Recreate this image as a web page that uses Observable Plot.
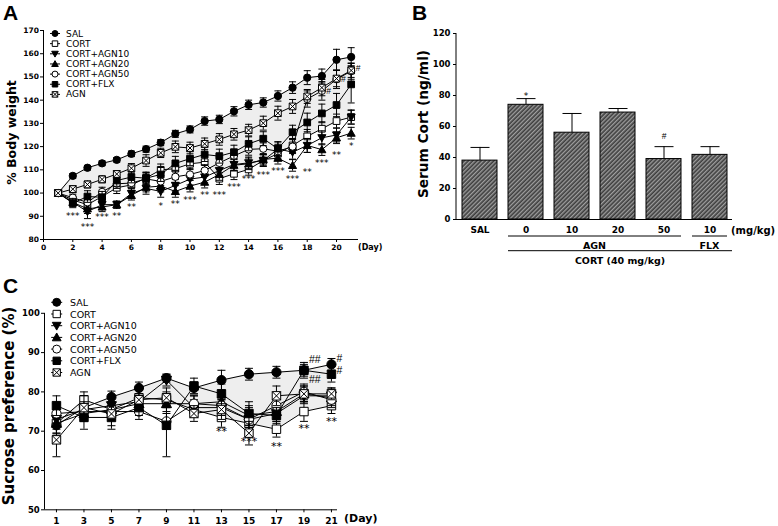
<!DOCTYPE html>
<html>
<head>
<meta charset="utf-8">
<script src="https://cdn.jsdelivr.net/npm/d3@7"></script>
<script src="https://cdn.jsdelivr.net/npm/@observablehq/plot@0.6"></script>
<style>
html,body{margin:0;padding:0;background:#fff;}
#root{position:relative;width:778px;height:526px;overflow:hidden;background:#fff;}
#root > svg{position:absolute;}
</style>
</head>
<body>
<div id="root"></div>
<script>
// ================= DATA =================
const seriesNames = ["SAL","CORT","CORT+AGN10","CORT+AGN20","CORT+AGN50","CORT+FLX","AGN"];

// ---- Panel A: % body weight ----
const daysA = [1,2,3,4,5,6,7,8,9,10,11,12,13,14,15,16,17,18,19,20,21];
const salA   = [100,107.4,110.9,112.8,114.3,116.9,118.9,121.7,125.5,127.4,131,131.7,135.2,138,139,141.8,145.4,149.7,150.4,157.4,158.6];
const cortA  = [100,97,95,98.5,102.3,103.5,106.5,110,110.5,112.6,113.3,106.2,108.3,110.2,114,117,120.5,124.4,127.7,131,132.7];
const agn10A = [100,96,92,95,95,99.8,102,100.7,103.3,106,106.9,109.7,112.3,113,114,119,117.6,120.5,123.8,125,132.7];
const agn20A = [100,96,93.2,94,95,99,102.5,103,100.7,103,104.7,108,112,112.6,114.5,115,111.9,120.5,118.7,123.8,125.8];
const agn50A = [100,98,96,100.5,104,104.3,106.1,105,107,108,109.7,113,116,118.8,119.1,118,120,140.5,144,149,152.5];
const flxA   = [100,95.7,98.5,98.2,105.4,106.9,106.4,108,112.8,114.8,116.6,115.9,117.6,121.2,123.4,119.1,126.2,130.4,134.3,137.9,146.8];
const agnA   = [100,101.7,103.7,105.9,108.2,110.7,114,117.3,119.9,119.4,121.2,123.1,125.3,127.1,130.1,134.4,137.3,141.6,145.4,149.3,152.8];
const salAErr   = [0,1,1,1,1,1.2,1.3,1.3,1.5,1.5,1.8,1.8,2,2,2,2.2,2.5,3,3,4.5,4];
const cortAErr  = [0,1.5,2,2,2.5,2.5,2.5,2.5,2.5,2.5,3,2.5,2.5,2.5,2.5,2.5,3,3,3,3,3];
const agn10AErr = [0,1.5,3,2,1.5,2,2.5,2.5,2.5,2.5,2.5,2.5,2.5,2.5,2.5,3,3,3,3,3,3];
const agn20AErr = [0,1.5,2,2,1.5,2,2,2.5,2.5,2.5,2.5,2.5,2.5,2.5,2.5,2.5,2.5,3,2.5,2.5,2.5];
const agn50AErr = [0,1.5,2,2,2,2,2.5,2.5,2.5,2.5,2.5,2.5,2.5,2.5,2.5,3,3,3.5,4,4,3.5];
const flxAErr   = [0,2,2.5,2.5,2.5,2.5,2.5,3,3,3,3,3,3,3,3,3,3,4,4,5,8];
const agnAErr   = [0,1.5,1.5,1.5,1.5,2,2.5,2,2.5,2.5,2.5,2.5,2.5,2.5,3,3,3,3,3.5,3.5,3];
const ticksAY = [80,90,100,110,120,130,140,150,160,170];
const ticksAX = [0,2,4,6,8,10,12,14,16,18,20];
const starDaysA   = [2,3,4,5,6,8,9,10,11,12,13,14,15,16,17,18,19,20,21];
const starLabelsA = ["***","***","***","**","**","*","**","***","**","***","***","***","***","***","***","**","***","**","*"];
const starPosA    = [91.1,86.5,90.8,91.3,95,95.6,96.4,98.2,100,100,103.6,106.9,108.6,110.5,107.2,110,114,117.6,121.5];
const hashDaysA = [19,20,21];
const hashPosA  = [143.8,149,153.8];

// ---- Panel B: serum corticosterone ----
const catsB   = ["SAL","AGN0","AGN10","AGN20","AGN50","FLX10"];
const labelsB = ["SAL","0","10","20","50","10"];
const valuesB = [38,74,56,69,39,41.7];
const errB    = [8.5,4,12.4,2.6,8,5.3];
const ticksBY = [0,20,40,60,80,100,120];
const annCatsB = ["AGN0","AGN50"];
const annTextB = ["*","#"];

// ---- Panel C: sucrose preference ----
const daysC   = [1,3,5,7,9,11,13,15,17,19,21];
const salC    = [71.5,76,78.7,81,83.5,81,83,84.5,85,85.5,87];
const cortC   = [72,78,75.5,78.5,78,75.5,73.5,72,70.5,75,76.5];
const agn10C  = [73,75.5,76.5,77.5,83,76,76,73,74.5,79,79];
const agn20C  = [72,74.5,75.5,77,77,77,77.5,74,75,79.5,78.5];
const agn50C  = [74.5,75,75,75,72.5,77,76.5,73,76.5,80,78];
const flxC    = [76.5,73.5,73.5,76,71.5,81.5,79.5,74.5,74,85.5,84.5];
const agnC    = [67.8,76,74.4,78,78.5,74.5,75.5,69.5,79,79.5,79.5];
const salCErr   = [2,2,1.5,1.5,1,1.5,2.5,1.5,1.5,1.5,1.5];
const cortCErr  = [3,2,2,2,2,2,2.5,2,2,2.5,2];
const agn10CErr = [2.5,2,2,2,1.5,2,2,2,2,2,2];
const agn20CErr = [2.5,2,2,2,2,2,2,2.5,2,2,2];
const agn50CErr = [2.5,2,2,2,2,2,2,3,2.5,2,2];
const flxCErr   = [2.5,3,3,2,8,2,2.5,3,2,2,2];
const agnCErr   = [4.3,3,3,2.5,2.5,2,2.5,3,2.5,2,1.5];
const ticksCY = [50,60,70,80,90,100];
const starDaysC   = [13,15,17,19,21];
const starLabelsC = ["**","***","**","**","**"];
const starPosC    = [70.6,68.1,66.9,71.5,73.2];
const hashDaysC   = [19,19,21,21];
const hashLabelsC = ["##","##","#","#"];
const hashPosC    = [88.2,83.1,88.4,85.4];

// ================= SYMBOLS / STYLES =================
const rOf = s => Math.sqrt(s / Math.PI);
const symCircle = {draw(c,s){const r=rOf(s); c.moveTo(r,0); c.arc(0,0,r,0,2*Math.PI); c.closePath();}};
const symSquare = {draw(c,s){const r=rOf(s)*0.92; c.moveTo(-r,-r); c.lineTo(r,-r); c.lineTo(r,r); c.lineTo(-r,r); c.closePath();}};
const symXSquare = {draw(c,s){const r=rOf(s)*0.92; c.moveTo(-r,-r); c.lineTo(r,-r); c.lineTo(r,r); c.lineTo(-r,r); c.closePath();
  c.moveTo(-r,-r); c.lineTo(r,r); c.moveTo(r,-r); c.lineTo(-r,r);}};
const symTriUp = {draw(c,s){const r=rOf(s); c.moveTo(0,-r*1.1); c.lineTo(r*1.1,r*0.85); c.lineTo(-r*1.1,r*0.85); c.closePath();}};
const symTriDown = {draw(c,s){const r=rOf(s); c.moveTo(0,r*1.1); c.lineTo(r*1.1,-r*0.85); c.lineTo(-r*1.1,-r*0.85); c.closePath();}};
const symCap = {draw(c,s){const r=rOf(s); c.moveTo(-r,0); c.lineTo(r,0);}};

const styleOf = {
  "SAL":        {sym: symCircle,  fill: "#000"},
  "CORT":       {sym: symSquare,  fill: "#fff"},
  "CORT+AGN10": {sym: symTriDown, fill: "#000"},
  "CORT+AGN20": {sym: symTriUp,   fill: "#000"},
  "CORT+AGN50": {sym: symCircle,  fill: "#fff"},
  "CORT+FLX":   {sym: symSquare,  fill: "#000"},
  "AGN":        {sym: symXSquare, fill: "#fff"}
};

const rowsOf = (days, vals, errs) => days.map((d,i) => ({day: d, v: vals[i], e: errs[i]}));

function seriesMarks(rows, st, r, capR){
  const er = rows.filter(d => d.e > 0);
  return [
    Plot.ruleX(er, {x:"day", y1:d=>d.v-d.e, y2:d=>d.v+d.e, stroke:"#000", strokeWidth:1}),
    Plot.dot(er, {x:"day", y:d=>d.v+d.e, symbol:symCap, r:capR, stroke:"#000", fill:"none", strokeWidth:1}),
    Plot.dot(er, {x:"day", y:d=>d.v-d.e, symbol:symCap, r:capR, stroke:"#000", fill:"none", strokeWidth:1}),
    Plot.line(rows, {x:"day", y:"v", stroke:"#000", strokeWidth:1}),
    Plot.dot(rows, {x:"day", y:"v", symbol:st.sym, r, fill:st.fill, stroke:"#000", strokeWidth:1})
  ];
}

const baseStyle = {fontFamily: "DejaVu Sans", fontWeight: "bold", background: "transparent", overflow: "visible", color: "#000"};
const root = document.getElementById("root");

// ================= PANEL A =================
const seriesA = [
  ["SAL", rowsOf(daysA, salA, salAErr)],
  ["CORT", rowsOf(daysA, cortA, cortAErr)],
  ["CORT+AGN10", rowsOf(daysA, agn10A, agn10AErr)],
  ["CORT+AGN20", rowsOf(daysA, agn20A, agn20AErr)],
  ["CORT+AGN50", rowsOf(daysA, agn50A, agn50AErr)],
  ["CORT+FLX", rowsOf(daysA, flxA, flxAErr)],
  ["AGN", rowsOf(daysA, agnA, agnAErr)]
];
const areaA = daysA.map((d,i) => ({day: d, lo: cortA[i], hi: salA[i]}));
const starsA = starDaysA.map((d,i) => ({day: d, v: starPosA[i], t: starLabelsA[i]}));
const hashA = hashDaysA.map((d,i) => ({day: d, v: hashPosA[i], t: "#"}));
const xDomA = [0, 21.5], yDomA = [80, 170];

const plotA = Plot.plot({
  width: 380, height: 270, marginLeft: 43, marginRight: 22, marginTop: 30, marginBottom: 31,
  style: baseStyle,
  x: {domain: xDomA, label: null},
  y: {domain: yDomA, label: null},
  marks: [
    Plot.areaY(areaA, {x:"day", y1:"lo", y2:"hi", fill:"#eeeeee"}),
    ...seriesA.flatMap(([n, rows]) => seriesMarks(rows, styleOf[n], 3.65, 3.5)),
    Plot.ruleX([xDomA[0]], {stroke:"#000", strokeWidth:1}),
    Plot.ruleY([yDomA[0]], {stroke:"#000", strokeWidth:1}),
    Plot.axisY({ticks: ticksAY, tickSize: 3, tickPadding: 1.5, fontSize: 7.5, label: null, fill: "#000"}),
    Plot.axisX({ticks: ticksAX, tickSize: 3, tickPadding: 2, fontSize: 7.5, label: null, fill: "#000"}),
    Plot.text(starsA, {x:"day", y:"v", text:"t", fontSize: 9, fontWeight: "normal", fontFamily: "DejaVu Sans", dy: 2.5, fill: "#000"}),
    Plot.text(hashA, {x:"day", y:"v", text:"t", fontSize: 8.5, fontWeight: "normal", fontFamily: "Liberation Sans", textAnchor: "start", dx: 4.5, fill: "#000"})
  ]
});
plotA.style.left = "0px"; plotA.style.top = "0px";
root.appendChild(plotA);

// ================= PANEL B =================
const rowsB = catsB.map((c,i) => ({cat: c, v: valuesB[i], e: errB[i]}));
const annB = annCatsB.map((c,i) => ({cat: c, v: valuesB[catsB.indexOf(c)] + errB[catsB.indexOf(c)], t: annTextB[i]}));
const yDomB = [0, 120];
const plotB = Plot.plot({
  width: 398, height: 270, marginLeft: 76, marginRight: 46, marginTop: 33, marginBottom: 51,
  style: baseStyle,
  x: {domain: catsB, paddingInner: 0.25, paddingOuter: 0.09, label: null},
  y: {domain: yDomB, label: null},
  marks: [
    Plot.ruleX(rowsB, {x:"cat", y1:"v", y2:d=>d.v+d.e, stroke:"#000", strokeWidth:1}),
    Plot.dot(rowsB, {x:"cat", y:d=>d.v+d.e, symbol:symCap, r:9.5, stroke:"#000", fill:"none", strokeWidth:1}),
    Plot.barY(rowsB, {x:"cat", y:"v", fill:"url(#hatchB)", stroke:"#000", strokeWidth:1}),
    Plot.ruleY([yDomB[0]], {stroke:"#000", strokeWidth:1}),
    Plot.axisY({ticks: ticksBY, tickSize: 3, tickPadding: 3, fontSize: 8.5, label: null, fill: "#000"}),
    Plot.axisX({tickSize: 0, tickPadding: 7, fontSize: 9, label: null, fill: "#000", tickFormat: d => labelsB[catsB.indexOf(d)]}),
    Plot.text(annB.filter(d => d.t === "*"), {x:"cat", y:"v", text:"t", fontSize: 9, fontWeight:"normal", dy: -2.5, fill: "#000"}),
    Plot.text(annB.filter(d => d.t === "#"), {x:"cat", y:"v", text:"t", fontSize: 8.5, fontWeight:"normal", fontFamily:"Liberation Sans", dy: -10, fill: "#000"})
  ]
});
plotB.style.left = "380px"; plotB.style.top = "0px";
root.appendChild(plotB);
{
  const svg = d3.select(plotB);
  const defs = svg.insert("defs", ":first-child");
  const pat = defs.append("pattern").attr("id","hatchB").attr("patternUnits","userSpaceOnUse")
    .attr("width",3).attr("height",3).attr("patternTransform","rotate(45)");
  pat.append("rect").attr("width",3).attr("height",3).attr("fill","#3e3e3e");
  pat.append("line").attr("x1",0.75).attr("y1",0).attr("x2",0.75).attr("y2",3)
    .attr("stroke","#cfcfcf").attr("stroke-width",0.9);
  const yS = plotB.scale("y"), xS = plotB.scale("x");
  svg.append("line").attr("x1", xS.range[0]).attr("x2", xS.range[0])
    .attr("y1", yS.apply(yDomB[0])).attr("y2", yS.apply(yDomB[1])).attr("stroke","#000");
}

// ================= PANEL C =================
const seriesC = [
  ["SAL", rowsOf(daysC, salC, salCErr)],
  ["CORT", rowsOf(daysC, cortC, cortCErr)],
  ["CORT+AGN10", rowsOf(daysC, agn10C, agn10CErr)],
  ["CORT+AGN20", rowsOf(daysC, agn20C, agn20CErr)],
  ["CORT+AGN50", rowsOf(daysC, agn50C, agn50CErr)],
  ["CORT+FLX", rowsOf(daysC, flxC, flxCErr)],
  ["AGN", rowsOf(daysC, agnC, agnCErr)]
];
const areaC = daysC.map((d,i) => ({day: d, lo: cortC[i], hi: salC[i]}));
const starsC = starDaysC.map((d,i) => ({day: d, v: starPosC[i], t: starLabelsC[i]}));
const hashC = hashDaysC.map((d,i) => ({day: d, v: hashPosC[i], t: hashLabelsC[i]}));
const xDomC = [0.13, 21.44], yDomC = [50, 100];
const plotC = Plot.plot({
  width: 400, height: 256, marginLeft: 44, marginRight: 63, marginTop: 42.8, marginBottom: 16.7,
  style: baseStyle,
  x: {domain: xDomC, label: null},
  y: {domain: yDomC, label: null},
  marks: [
    Plot.areaY(areaC, {x:"day", y1:"lo", y2:"hi", fill:"#eeeeee"}),
    ...seriesC.flatMap(([n, rows]) => seriesMarks(rows, styleOf[n], 4.6, 4)),
    Plot.ruleX([xDomC[0]], {stroke:"#000", strokeWidth:1}),
    Plot.ruleY([yDomC[0]], {stroke:"#000", strokeWidth:1}),
    Plot.axisY({ticks: ticksCY, tickSize: 3, tickPadding: 1.7, fontSize: 8.5, label: null, fill: "#000"}),
    Plot.axisX({ticks: daysC, tickSize: 3, tickPadding: 5, fontSize: 9, label: null, fill: "#000"}),
    Plot.text(starsC, {x:"day", y:"v", text:"t", fontSize: 11, fontWeight: "normal", dy: 3, fill: "#000"}),
    Plot.text(hashC, {x:"day", y:"v", text:"t", fontSize: 10.5, fontWeight: "normal", fontFamily: "Liberation Sans", textAnchor: "start", dx: 5, fill: "#000"})
  ]
});
plotC.style.left = "0px"; plotC.style.top = "270px";
root.appendChild(plotC);

// ================= OVERLAY (titles, legends, group labels) =================
const ov = d3.select(root).append("svg").attr("width", 778).attr("height", 526)
  .style("left","0px").style("top","0px").style("pointer-events","none");

// panel letters
[["A",3,20],["B",412,20],["C",3,293]].forEach(([t,x,y]) =>
  ov.append("text").attr("x",x).attr("y",y).text(t).attr("fill","#000")
    .attr("font-family","Liberation Sans").attr("font-weight","bold").attr("font-size",21));

// y titles
[["% Body weight",11.5,132.5,12.5],["Serum Cort (ng/ml)",423,124,13.7],["Sucrose preference (%)",9,406,15]].forEach(([t,x,y,fs]) =>
  ov.append("text").attr("transform",`translate(${x},${y}) rotate(-90)`).attr("text-anchor","middle")
    .attr("dominant-baseline","central").attr("font-family","DejaVu Sans").attr("font-weight","bold")
    .attr("font-size",fs).attr("fill","#000").text(t));

// (Day)
ov.append("text").attr("x",358).attr("y",247).attr("dominant-baseline","central").attr("font-family","DejaVu Sans")
  .attr("font-weight","bold").attr("font-size",8).attr("fill","#000").text("(Day)");
ov.append("text").attr("x",344).attr("y",518.5).attr("dominant-baseline","central").attr("font-family","DejaVu Sans")
  .attr("font-weight","bold").attr("font-size",11).attr("fill","#000").text("(Day)");

// legends
function legend(x0, y0, dy, r, fs, lineHalf, textX){
  seriesNames.forEach((n,i) => {
    const y = y0 + i*dy, st = styleOf[n];
    ov.append("line").attr("x1",x0-lineHalf).attr("x2",x0+lineHalf).attr("y1",y).attr("y2",y).attr("stroke","#000");
    ov.append("path").attr("transform",`translate(${x0},${y})`)
      .attr("d", d3.symbol().type(st.sym).size(r*r*Math.PI)())
      .attr("fill", st.fill).attr("stroke","#000").attr("stroke-width",1);
    ov.append("text").attr("x",textX).attr("y",y).attr("dominant-baseline","central")
      .attr("font-family","DejaVu Sans").attr("font-size",fs).attr("fill","#000").text(n);
  });
}
legend(55, 33.5, 10.15, 3, 9, 5, 66);
legend(56.7, 302.3, 11.7, 4, 9.5, 5.5, 70);

// panel B group labels (positioned from the plot's own band scale)
{
  const xS = plotB.scale("x"), yS = plotB.scale("y");
  const ox = 380, base = yS.apply(0);
  const bw = xS.bandwidth;
  const l1a = ox + xS.apply("AGN0"), l1b = ox + xS.apply("AGN50") + bw;
  const f1a = ox + xS.apply("FLX10"), f1b = ox + xS.apply("FLX10") + bw;
  const l2b = ox + xS.range[1];
  const ln = (x1,x2,y) => ov.append("line").attr("x1",x1).attr("x2",x2).attr("y1",y).attr("y2",y).attr("stroke","#000").attr("stroke-width",1);
  const tx = (t,x,y,anchor) => ov.append("text").attr("x",x).attr("y",y).attr("text-anchor",anchor).attr("dominant-baseline","central")
    .attr("font-family","DejaVu Sans").attr("font-weight","bold").attr("font-size",9.5).attr("fill","#000").text(t);
  ln(l1a, l1b, base + 17);
  ln(f1a, f1b, base + 17);
  ln(l1a, l2b, base + 31.7);
  tx("AGN", (l1a + l1b)/2, base + 26, "middle");
  tx("FLX", (f1a + f1b)/2, base + 26, "middle");
  tx("CORT (40 mg/kg)", (l1a + l2b)/2, base + 41, "middle");
  tx("(mg/kg)", ox + xS.range[1] - 1, base + 11, "start").attr("font-size",10);
}
</script>
</body>
</html>
